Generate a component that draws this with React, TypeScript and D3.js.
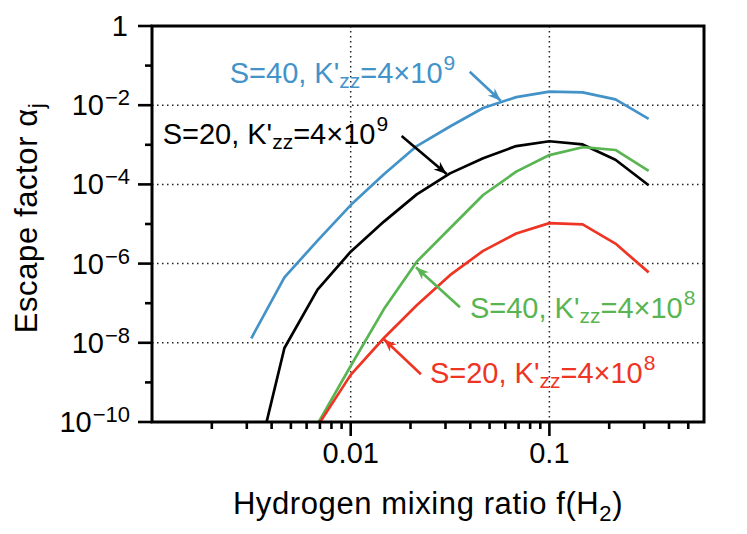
import React, { useRef, useEffect } from 'react';
import * as d3 from 'd3';

// hydrogen mixing ratio grid (x)
const fH2 = [0.00316, 0.00464, 0.00681, 0.01, 0.0147, 0.0215, 0.0316, 0.0464, 0.0681, 0.1, 0.147, 0.215, 0.316];

// escape factor for each case (null = off the bottom of the plot)
const s40k9 = [1.3e-8, 4.5e-7, 3.8e-6, 3.0e-5, 1.8e-4, 9.3e-4, 2.9e-3, 8.5e-3, 1.6e-2, 2.2e-2, 2.1e-2, 1.4e-2, 4.5e-3];
const s20k9 = [2.5e-12, 7.4e-9, 2.2e-7, 2.0e-6, 1.15e-5, 5.6e-5, 1.9e-4, 4.6e-4, 9.3e-4, 1.23e-3, 1.02e-3, 4.2e-4, 9.5e-5];
const s40k8 = [null, null, 8.9e-11, 2.6e-9, 7.1e-8, 1.12e-6, 7.8e-6, 5.4e-5, 2.1e-4, 5.5e-4, 8.7e-4, 7.4e-4, 2.2e-4];
const s20k8 = [null, null, 7.9e-11, 1.55e-9, 1.32e-8, 8.9e-8, 5.1e-7, 2.1e-6, 5.75e-6, 1.05e-5, 9.8e-6, 3.2e-6, 6.0e-7];

const yTickExps = [0, -2, -4, -6, -8, -10];
const xTickValues = [0.01, 0.1];
const xTickLabels = ['0.01', '0.1'];

const series = [
  { key: 's40k9', values: s40k9, color: '#4393c9', S: 40, kExp: '9' },
  { key: 's20k9', values: s20k9, color: '#000000', S: 20, kExp: '9' },
  { key: 's40k8', values: s40k8, color: '#58b552', S: 40, kExp: '8' },
  { key: 's20k8', values: s20k8, color: '#ee3524', S: 20, kExp: '8' },
];

// arrow tip in data coords, tail and label offsets in px from the tip
const annotations = [
  { key: 's40k9', tip: [0.0569, 1.3e-2], tail: [-31, -29], label: [-271, -18] },
  { key: 's20k9', tip: [0.0304, 1.83e-4], tail: [-45, -38], label: [-284, -30] },
  { key: 's40k8', tip: [0.0213, 8.1e-7], tail: [44, 40], label: [54, 51] },
  { key: 's20k8', tip: [0.0147, 1.23e-8], tail: [37, 35], label: [46, 44] },
];

const FONT = '"Liberation Sans", Arial, Helvetica, sans-serif';

const App = () => {
  const svgRef = useRef<SVGSVGElement>(null);

  useEffect(() => {
    const svg = d3.select(svgRef.current);
    svg.selectAll('*').remove();

    const left = 152, right = 704, top = 26, bottom = 422;

    const x = d3.scaleLog().domain([0.001, 0.6]).range([left, right]);
    const y = d3.scaleLog().domain([1e-10, 1]).range([bottom, top]);

    const root = svg.append('g').style('font-family', FONT);

    root.append('clipPath').attr('id', 'plot-clip')
      .append('rect')
      .attr('x', left).attr('y', top)
      .attr('width', right - left).attr('height', bottom - top);

    // dotted grid
    const grid = root.append('g')
      .attr('stroke', '#222')
      .attr('stroke-width', 1.5)
      .attr('stroke-dasharray', '1.5 3.5');
    yTickExps.filter(e => e !== 0 && e !== -10).forEach(e => {
      grid.append('line')
        .attr('x1', left).attr('x2', right)
        .attr('y1', y(Math.pow(10, e))).attr('y2', y(Math.pow(10, e)));
    });
    xTickValues.forEach(v => {
      grid.append('line')
        .attr('x1', x(v)).attr('x2', x(v))
        .attr('y1', top).attr('y2', bottom);
    });

    // data lines
    const line = d3.line<number | null>()
      .defined(d => d !== null)
      .x((d, i) => x(fH2[i]))
      .y(d => y(d as number));

    const lines = root.append('g').attr('clip-path', 'url(#plot-clip)');
    series.forEach(s => {
      lines.append('path')
        .datum(s.values)
        .attr('d', line)
        .attr('fill', 'none')
        .attr('stroke', s.color)
        .attr('stroke-width', 2.7)
        .attr('stroke-linejoin', 'round');
    });

    // frame
    root.append('rect')
      .attr('x', left).attr('y', top)
      .attr('width', right - left).attr('height', bottom - top)
      .attr('fill', 'none')
      .attr('stroke', '#000')
      .attr('stroke-width', 3);

    // y ticks
    const ticks = root.append('g').attr('stroke', '#000').attr('stroke-width', 2.6);
    d3.range(-10, 1).forEach(e => {
      const major = e % 2 === 0;
      ticks.append('line')
        .attr('x1', left - (major ? 14 : 7)).attr('x2', left)
        .attr('y1', y(Math.pow(10, e))).attr('y2', y(Math.pow(10, e)));
    });

    // x ticks
    [-3, -2, -1].forEach(d => {
      d3.range(1, 10).forEach(m => {
        const v = m * Math.pow(10, d);
        if (v <= 0.001 || v > 0.6) return;
        ticks.append('line')
          .attr('x1', x(v)).attr('x2', x(v))
          .attr('y1', bottom).attr('y2', bottom + (m === 1 ? 14 : 7));
      });
    });

    // y tick labels
    yTickExps.forEach(e => {
      const t = root.append('text')
        .attr('x', 130)
        .attr('y', y(Math.pow(10, e)) + 10)
        .attr('text-anchor', 'end')
        .style('font-size', '29px');
      if (e === 0) {
        t.attr('x', 128).text('1');
      } else {
        t.append('tspan').text('10');
        t.append('tspan').attr('dx', 1).attr('dy', -10).style('font-size', '22px').text(`\u2212${-e}`);
      }
    });

    // x tick labels
    xTickValues.forEach((v, i) => {
      root.append('text')
        .attr('x', x(v))
        .attr('y', 463)
        .attr('text-anchor', 'middle')
        .style('font-size', '29px')
        .text(xTickLabels[i]);
    });

    // axis titles
    const xt = root.append('text')
      .attr('x', (left + right) / 2)
      .attr('y', 514)
      .attr('text-anchor', 'middle')
      .style('font-size', '31px')
      .style('letter-spacing', '0.6px');
    xt.append('tspan').text('Hydrogen mixing ratio f(H');
    xt.append('tspan').attr('dy', 7).style('font-size', '22px').text('2');
    xt.append('tspan').attr('dy', -7).text(')');

    const yt = root.append('text')
      .attr('transform', `translate(37,${(top + bottom) / 2 - 6}) rotate(-90)`)
      .attr('text-anchor', 'middle')
      .style('font-size', '31px')
      .style('letter-spacing', '0.6px');
    yt.append('tspan').text('Escape factor \u03b1');
    yt.append('tspan').attr('dy', 7).style('font-size', '22px').text('j');

    // annotations
    const defs = root.append('defs');
    annotations.forEach(a => {
      const s = series.find(d => d.key === a.key)!;
      const id = `head-${a.key}`;
      defs.append('marker')
        .attr('id', id)
        .attr('viewBox', '-13 -6 14 12')
        .attr('markerUnits', 'userSpaceOnUse')
        .attr('markerWidth', 14)
        .attr('markerHeight', 12)
        .attr('refX', 0).attr('refY', 0)
        .attr('orient', 'auto')
        .append('path')
        .attr('d', 'M-13,-5 L0,0 L-13,5 L-9,0 Z')
        .attr('fill', s.color);

      const tx = x(a.tip[0]);
      const ty = y(a.tip[1]);
      root.append('line')
        .attr('x1', tx + a.tail[0]).attr('y1', ty + a.tail[1])
        .attr('x2', tx).attr('y2', ty)
        .attr('stroke', s.color)
        .attr('stroke-width', 2.6)
        .attr('marker-end', `url(#${id})`);

      const lab = root.append('text')
        .attr('x', tx + a.label[0])
        .attr('y', ty + a.label[1])
        .attr('fill', s.color)
        .style('font-size', '29px');
      lab.append('tspan').text(`S=${s.S}, K'`);
      lab.append('tspan').attr('dy', 5).style('font-size', '21px').text('zz');
      lab.append('tspan').attr('dy', -5).text('=4\u00d710');
      lab.append('tspan').attr('dx', 1).attr('dy', -13).style('font-size', '21px').text(s.kExp);
    });
  }, []);

  return (
    <svg
      ref={svgRef}
      width={747}
      height={534}
      style={{ position: 'absolute', left: 0, top: 0, background: '#fff' }}
    />
  );
};

export default App;
